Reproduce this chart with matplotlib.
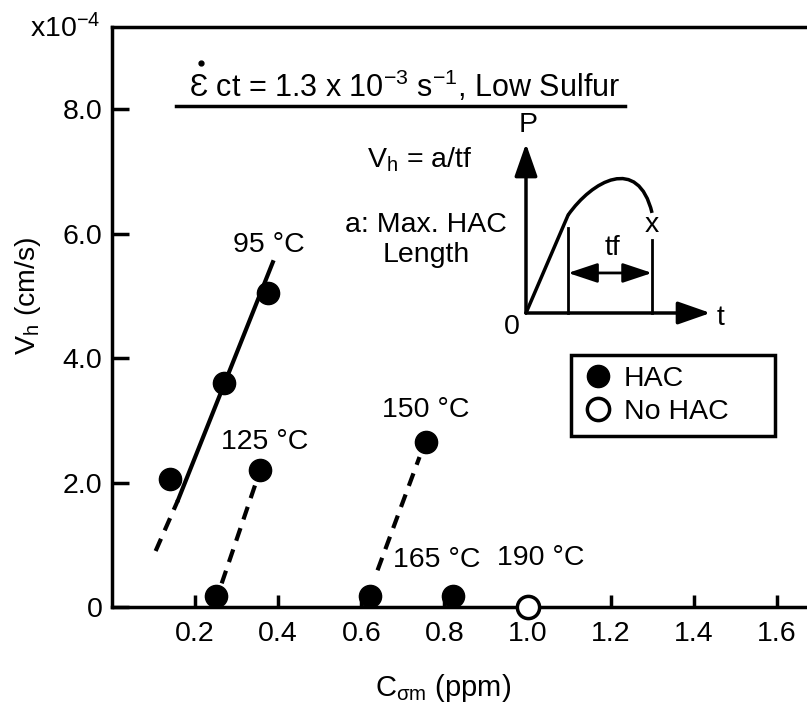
import matplotlib
matplotlib.use("Agg")
import matplotlib.pyplot as plt
from matplotlib.lines import Line2D
from matplotlib.path import Path
from matplotlib.patches import PathPatch

plt.rcParams['font.family'] = ['Liberation Sans', 'DejaVu Sans']
plt.rcParams['mathtext.fontset'] = 'custom'
plt.rcParams['mathtext.rm'] = 'Liberation Sans'
plt.rcParams['mathtext.it'] = 'Liberation Sans:italic'
plt.rcParams['mathtext.sf'] = 'Liberation Sans'

# ---- data (Vh in units of 1e-4 cm/s) ----
hac_c = [0.14, 0.27, 0.375, 0.25, 0.355, 0.62, 0.755, 0.82]
hac_v = [2.05, 3.6, 5.05, 0.18, 2.2, 0.18, 2.65, 0.18]
nohac_c = [1.0]
nohac_v = [0.0]

# temperature labels and their anchor positions
temp_labels = ["95 °C", "125 °C", "150 °C", "165 °C", "190 °C"]
temp_label_c = [0.377, 0.368, 0.755, 0.781, 1.031]
temp_label_v = [5.82, 2.65, 3.16, 0.76, 0.79]

# trend lines
fit_95_solid = ([0.159, 0.387], [1.72, 5.54])
fit_95_dash = ([0.105, 0.159], [0.90, 1.72])
fit_125_dash = ([0.264, 0.348], [0.38, 2.03])
fit_150_dash = ([0.639, 0.740], [0.59, 2.41])

x_ticks = [0.2, 0.4, 0.6, 0.8, 1.0, 1.2, 1.4, 1.6]
x_ticklabels = ["0.2", "0.4", "0.6", "0.8", "1.0", "1.2", "1.4", "1.6"]
y_ticks = [0, 2, 4, 6, 8]
y_ticklabels = ["0", "2.0", "4.0", "6.0", "8.0"]

W, H = 807, 713
FS = 20.5
LW = 2.5
MS = 16


def fpos(x, y):
    """pixel position (from top-left) -> figure fraction"""
    return x / W, 1 - y / H


fig = plt.figure(figsize=(W / 100, H / 100), dpi=100)
ax = fig.add_axes([112 / W, 1 - 607 / H, 748 / W, 580 / H])
ax.set_xlim(0, 1.8)
ax.set_ylim(0, 9.32)

for s in ax.spines.values():
    s.set_linewidth(LW)
ax.spines['right'].set_visible(False)

ax.set_xticks(x_ticks)
ax.set_xticklabels(x_ticklabels)
ax.set_yticks(y_ticks)
ax.set_yticklabels(y_ticklabels)
ax.tick_params(axis='both', direction='in', width=LW, labelsize=FS)
ax.tick_params(axis='y', length=12, pad=7)
ax.tick_params(axis='x', length=9, pad=10)

# trend lines
ax.plot(*fit_95_solid, color='k', lw=3)
for seg in (fit_95_dash, fit_125_dash, fit_150_dash):
    ax.plot(*seg, color='k', lw=3, dashes=(3.2, 2.2))

# data points
ax.plot(hac_c, hac_v, 'o', color='k', ms=MS, zorder=5)
ax.plot(nohac_c, nohac_v, 'o', mfc='white', mec='k', mew=LW, ms=MS,
        zorder=6, clip_on=False)

for lab, c, v in zip(temp_labels, temp_label_c, temp_label_v):
    ax.text(c, v, lab, fontsize=FS, ha='center', va='center')

# axis labels
fig.text(*fpos(28, 296), r"V$_{\mathrm{h}}$ (cm/s)", fontsize=FS,
         rotation=90, ha='center', va='center')
fig.text(*fpos(443, 688), r"C$_{\mathrm{\sigma m}}$ (ppm)", fontsize=FS + 0.5,
         ha='center', va='center')
fig.text(*fpos(30, 37), r"x10$^{-4}$", fontsize=FS, ha='left', va='baseline')

# heading with underline
fig.text(*fpos(189, 97), "Ɛ ct = 1.3 x 10$^{-3}$ s$^{-1}$, Low Sulfur",
         fontsize=FS + 1.5, ha='left', va='baseline')
fig.add_artist(Line2D([fpos(201, 0)[0]], [fpos(0, 63)[1]], marker='o',
                      ms=3.5, color='k', ls='none'))
fig.add_artist(Line2D([176 / W, 625 / W], [1 - 106 / H, 1 - 106 / H],
                      color='k', lw=LW))

# definition text
fig.text(*fpos(420, 160), r"V$_{\mathrm{h}}$ = a/tf", fontsize=FS,
         ha='center', va='center')
fig.text(*fpos(426, 240), "a: Max. HAC\nLength", fontsize=FS,
         ha='center', va='center', multialignment='center', linespacing=1.2)

# load-time sketch
ins = fig.add_axes([500 / W, 1 - 335 / H, 230 / W, 220 / H])
ins.set_xlim(0, 1)
ins.set_ylim(0, 1)
ins.axis('off')
ox, oy = 0.113, 0.10
arrow_kw = dict(arrowstyle='-|>,head_length=1.0,head_width=0.35', lw=LW,
                color='k', shrinkA=0, shrinkB=0, mutation_scale=20)
ins.annotate('', xy=(ox, 0.87), xytext=(ox, oy), arrowprops=arrow_kw)
ins.annotate('', xy=(0.915, oy), xytext=(ox, oy), arrowprops=arrow_kw)
ins.plot([ox, 0.296], [oy, 0.545], color='k', lw=LW, solid_capstyle='round')
curve = Path([(0.296, 0.545), (0.40, 0.70), (0.60, 0.82), (0.661, 0.555)],
             [Path.MOVETO, Path.CURVE4, Path.CURVE4, Path.CURVE4])
ins.add_patch(PathPatch(curve, fc='none', ec='k', lw=LW))
ins.plot([0.296, 0.296], [oy, 0.486], color='k', lw=LW - 0.5)
ins.plot([0.661, 0.661], [oy, 0.432], color='k', lw=LW - 0.5)
ins.annotate('', xy=(0.296, 0.282), xytext=(0.661, 0.282),
             arrowprops=dict(arrowstyle='<|-|>,head_length=0.9,head_width=0.3',
                             lw=LW - 0.5, color='k', shrinkA=0, shrinkB=0,
                             mutation_scale=20))
ins.text(0.491, 0.395, "tf", fontsize=FS, ha='center', va='center')
ins.text(0.661, 0.50, "x", fontsize=FS, ha='center', va='center')
ins.text(0.122, 0.955, "P", fontsize=FS, ha='center', va='center')
ins.text(0.957, 0.077, "t", fontsize=FS, ha='center', va='center')
ins.text(0.052, 0.036, "0", fontsize=FS, ha='center', va='center')

# legend
handles = [Line2D([], [], ls='none', marker='o', color='k', ms=MS),
           Line2D([], [], ls='none', marker='o', mfc='white', mec='k',
                  mew=LW, ms=MS)]
leg = ax.legend(handles, ["HAC", "No HAC"], loc='upper left',
                bbox_to_anchor=(571 / W, 1 - 435 / H, 204 / W, 80 / H),
                bbox_transform=fig.transFigure, mode='expand',
                borderaxespad=0, fontsize=FS, frameon=True, fancybox=False,
                edgecolor='k', framealpha=1, borderpad=0.4,
                labelspacing=0.22, handlelength=1.1, handletextpad=0.35)
leg.get_frame().set_linewidth(LW)

fig.savefig("out.png", dpi=100)
